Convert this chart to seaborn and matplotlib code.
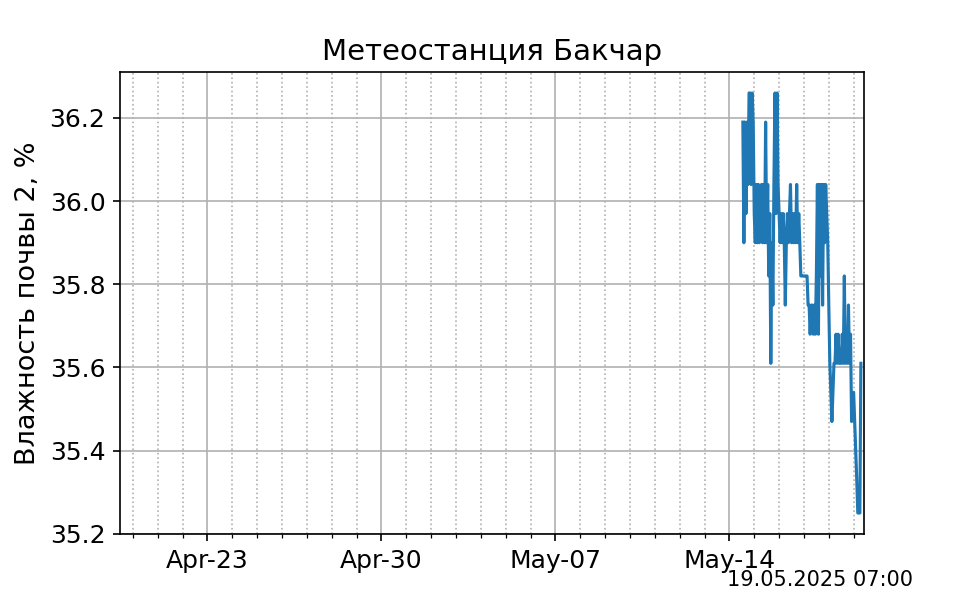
import matplotlib
matplotlib.use("Agg")
import matplotlib.pyplot as plt
import matplotlib.dates as mdates
import seaborn as sns
import pandas as pd

STATION = "Метеостанция Бакчар"
YLABEL = "Влажность почвы 2, %"
STAMP = "19.05.2025 07:00"

# hourly readings, first one at START
START = "2025-05-14 13:00"
moisture = [
    36.19, 35.90, 36.19, 35.97, 36.19, 36.04, 36.26, 36.26, 36.04, 36.26,
    36.19, 35.97, 35.90, 36.04, 35.90, 36.04, 35.90, 35.97, 36.04, 35.90,
    36.04, 35.90, 36.19, 35.90, 36.04, 35.82, 35.97, 35.61, 35.90, 35.75,
    36.04, 36.26, 35.97, 36.26, 36.04, 35.97, 35.90, 35.97, 35.90, 35.97,
    35.90, 35.75, 35.90, 35.97, 35.90, 35.97, 36.04, 35.90, 35.97, 35.90,
    35.97, 35.90, 36.04, 35.90, 35.97, 35.90, 35.82, 35.82, 35.82, 35.82,
    35.82, 35.82, 35.82, 35.75, 35.75, 35.68, 35.75, 35.75, 35.68, 35.75,
    35.68, 35.82, 36.04, 35.68, 36.04, 35.82, 36.04, 35.75, 36.04, 35.90,
    36.04, 35.97, 35.90, 35.75, 35.61, 35.54, 35.47, 35.54, 35.61, 35.61,
    35.68, 35.61, 35.68, 35.61, 35.61, 35.61, 35.68, 35.61, 35.82, 35.61,
    35.68, 35.61, 35.75, 35.61, 35.68, 35.47, 35.54, 35.54, 35.47, 35.40,
    35.33, 35.25, 35.25, 35.25, 35.61,
]
XLIM = ("2025-04-19 11:30", "2025-05-19 10:00")

df = pd.DataFrame({
    "time": pd.date_range(START, periods=len(moisture), freq="h"),
    "value": moisture,
})

plt.rcParams["font.size"] = 12
fig, ax = plt.subplots(figsize=(6.4, 4), dpi=150)
sns.lineplot(data=df, x="time", y="value", ax=ax, color="tab:blue", lw=1.5)

ax.set_xlim(pd.Timestamp(XLIM[0]), pd.Timestamp(XLIM[1]))
ax.xaxis.set_major_locator(mdates.WeekdayLocator(byweekday=mdates.WE))
ax.xaxis.set_minor_locator(mdates.DayLocator())
ax.xaxis.set_major_formatter(mdates.DateFormatter("%b-%d"))
ax.grid(which="major")
ax.grid(which="minor", axis="x", linestyle=":")

ax.set_title(STATION, fontsize=14)
ax.set_ylabel(YLABEL, fontsize=13)
ax.set_xlabel("")
fig.text(0.757, 0.023, STAMP, fontsize=10)

fig.savefig("out.png")
